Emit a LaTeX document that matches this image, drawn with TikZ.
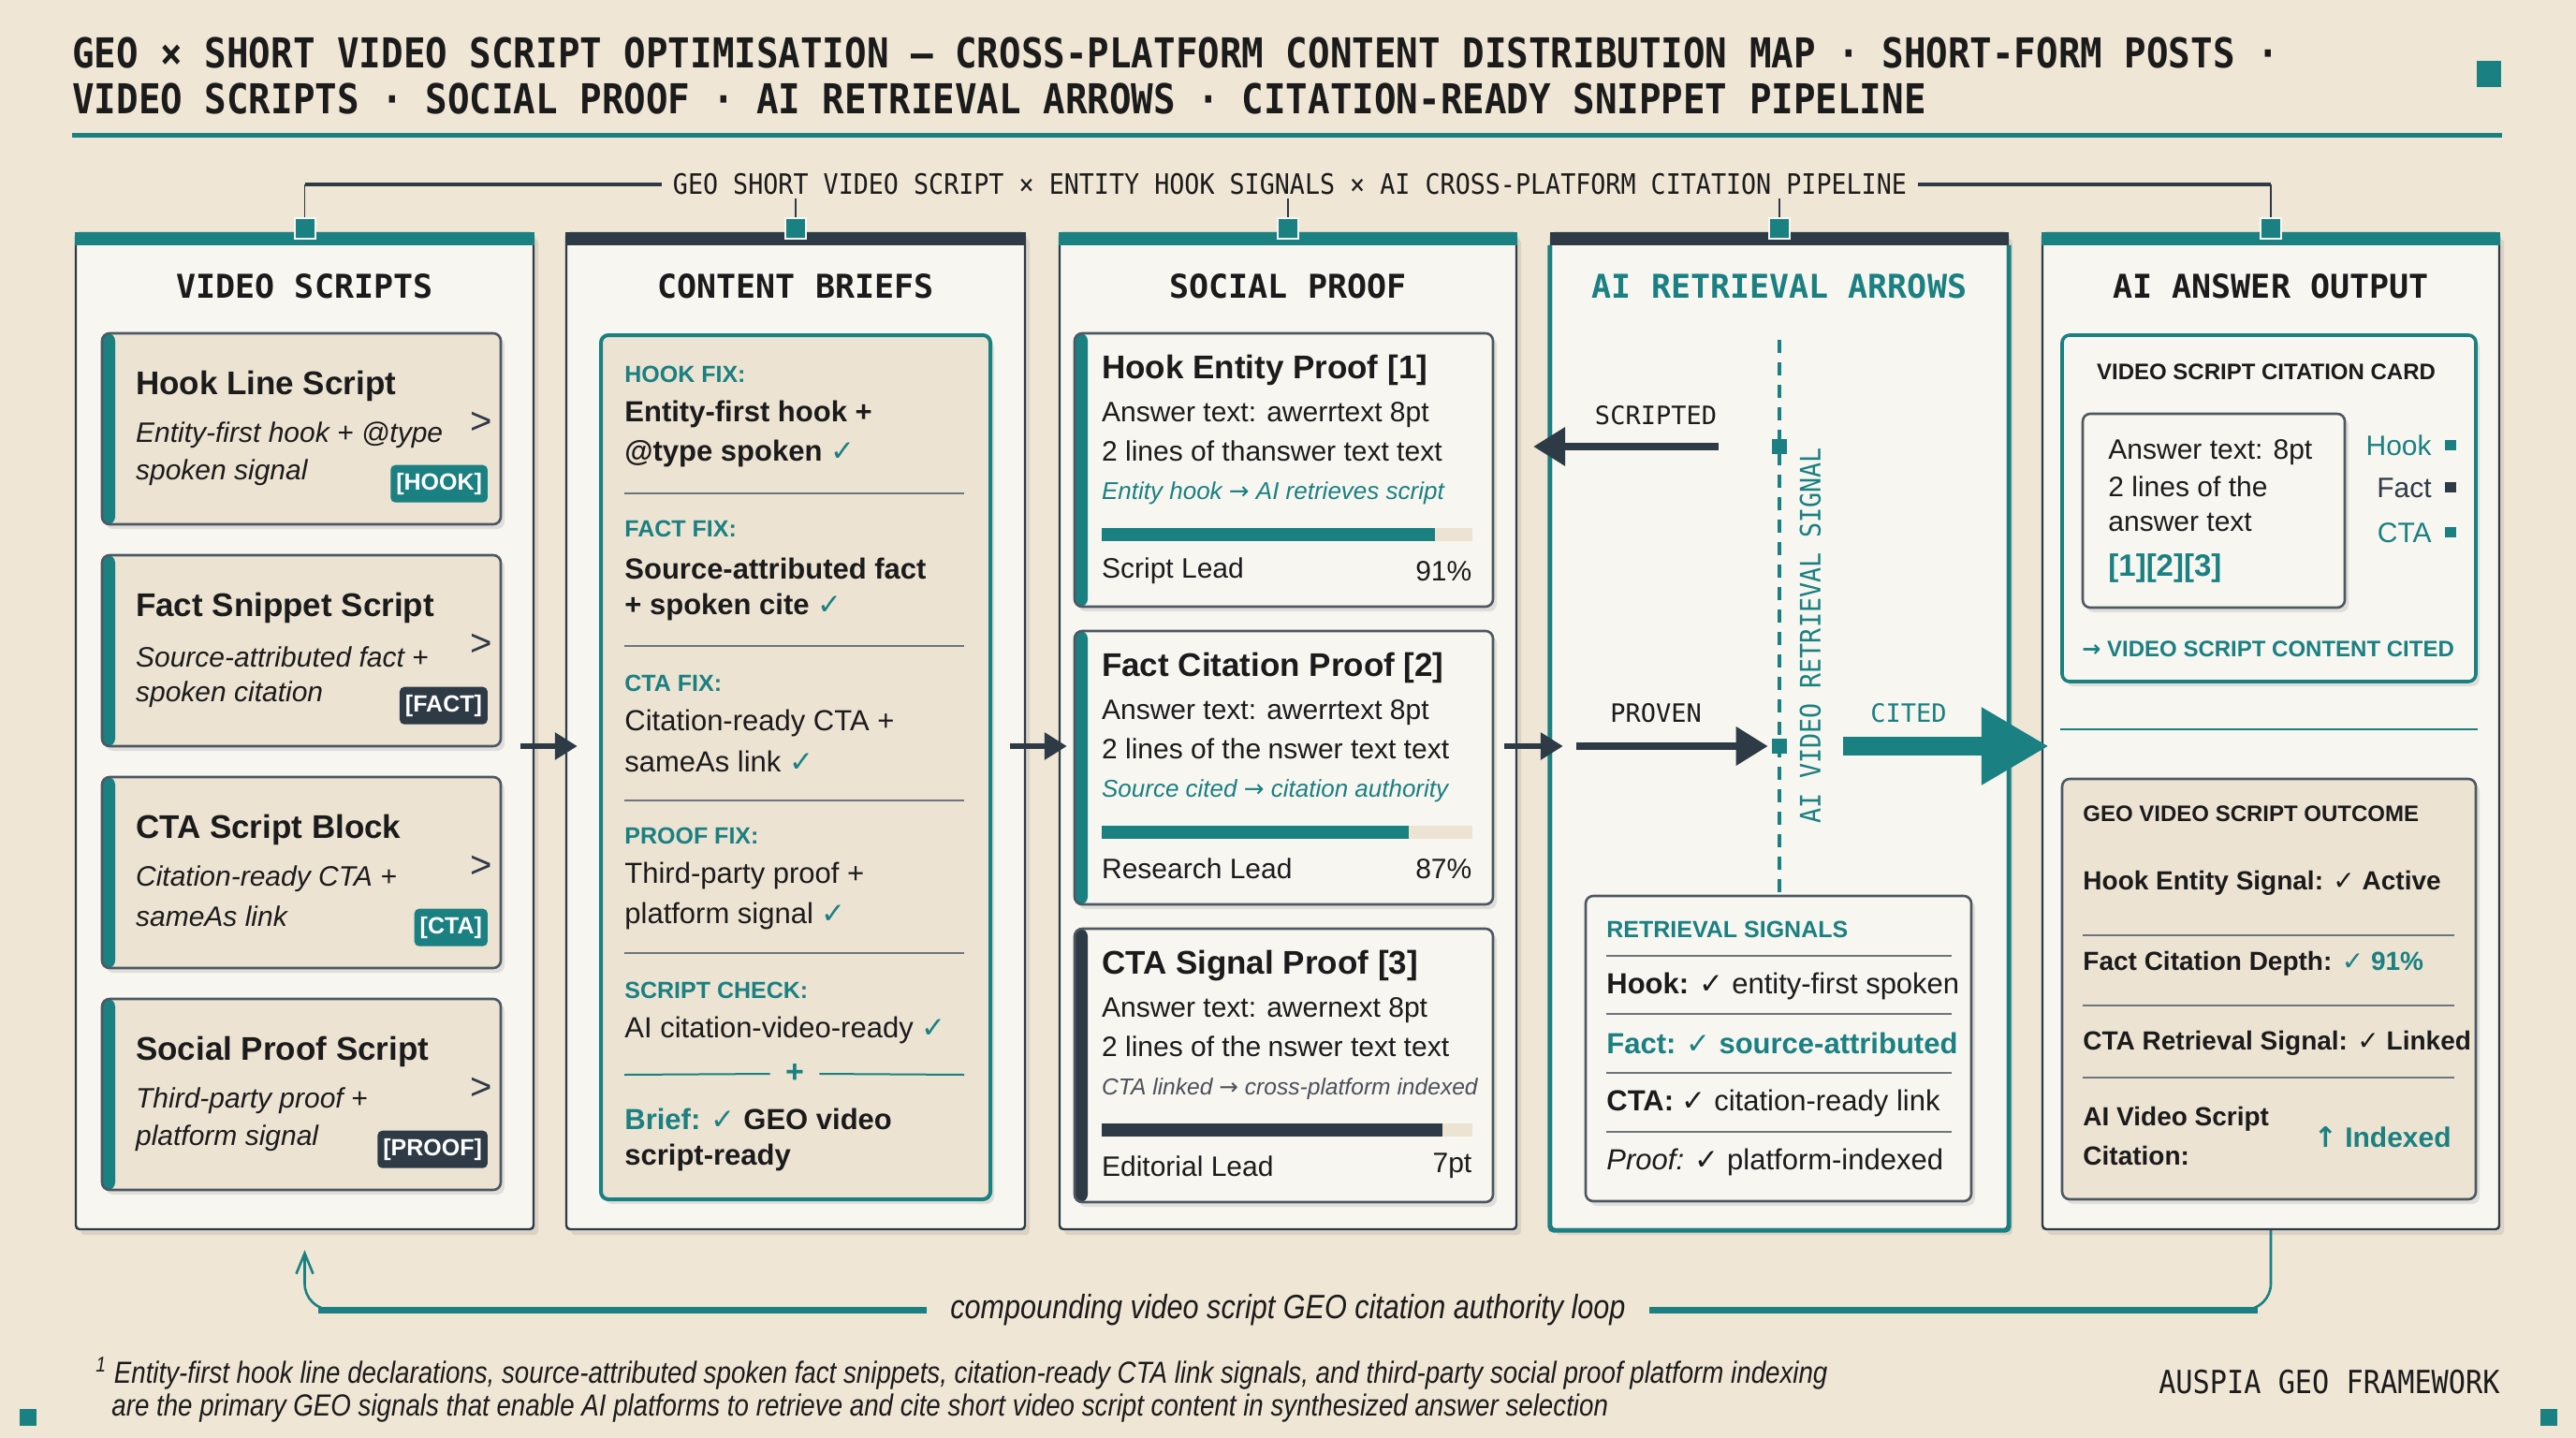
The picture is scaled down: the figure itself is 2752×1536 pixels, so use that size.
\documentclass[tikz,border=0pt]{standalone}
\usepackage{fontspec}
\setmainfont{Liberation Sans}
\newfontfamily\monofont{DejaVu Sans Mono}
\newfontfamily\narrowmono[FakeStretch=0.89]{DejaVu Sans Mono}
\newfontfamily\narrowsans[FakeStretch=0.85]{Liberation Sans}
\newfontfamily\symfont{DejaVu Sans}
\usepackage{xcolor}
\usepackage{tikz}
\usetikzlibrary{arrows.meta,positioning,fit,calc,shadows}

\definecolor{paper}{HTML}{EFE6D5}
\definecolor{panel}{HTML}{F8F6F1}
\definecolor{cardbg}{HTML}{ECE3D3}
\definecolor{geoteal}{HTML}{1A8081}
\definecolor{slate}{HTML}{2E3A46}
\definecolor{inkgray}{HTML}{4B5159}
\definecolor{ink}{HTML}{1B1B1B}

\newcommand{\fsz}[1]{\fontsize{#1}{#1}\selectfont}
\newcommand{\ck}{{\symfont ✓}}
\newcommand{\tck}{\textcolor{geoteal}{\ck}}
\newcommand{\rarr}{{\symfont →}}

\tikzset{
  colbox/.style={draw=slate, line width=1.2pt, fill=panel, rounded corners=2pt, inner sep=0pt,
    drop shadow={shadow xshift=2.5pt, shadow yshift=-3pt, opacity=0.18}},
  card/.style={draw=slate!85, line width=1.3pt, fill=cardbg, rounded corners=4pt, inner sep=0pt,
    drop shadow={shadow xshift=2pt, shadow yshift=-2.5pt, opacity=0.2},
    path picture={\fill[#1] (path picture bounding box.north west) rectangle ([xshift=7pt]path picture bounding box.south west);}},
  plainbox/.style={draw=slate!85, line width=1.3pt, fill=panel, rounded corners=4pt, inner sep=0pt,
    drop shadow={shadow xshift=2pt, shadow yshift=-2.5pt, opacity=0.2}},
  tealbox/.style={plainbox, draw=geoteal, line width=2pt},
  txt/.style={inner sep=0pt, anchor=west, text=ink},
  rtxt/.style={inner sep=0pt, anchor=east, text=ink},
  colhead/.style={inner sep=0pt, font=\monofont\bfseries\fsz{17.5}, text=ink},
  tap/.style={draw=panel, line width=1pt, fill=geoteal, minimum size=11pt, inner sep=0pt},
  hit/.style={fill=geoteal, minimum size=8pt, inner sep=0pt},
  tag/.style={inner xsep=3pt, inner ysep=0pt, minimum height=20pt, rounded corners=2.5pt,
    text=white, font=\bfseries\fsz{12.5}, anchor=east},
  fixlbl/.style={txt, text=geoteal, font=\bfseries\fsz{12.5}},
  rowline/.style={slate!70, line width=0.8pt},
  flow/.style={-{Triangle[length=12pt,width=14pt]}, line width=3.2pt, slate},
  bigflow/.style={-{Triangle[length=17pt,width=20pt]}, line width=3.6pt, slate},
  citeflow/.style={-{Triangle[length=36pt,width=39pt]}, line width=10pt, geoteal},
  arrlbl/.style={inner sep=0pt, font=\monofont\fsz{13.5}, text=ink},
  loopthin/.style={geoteal, line width=1.3pt},
  loopthick/.style={geoteal, line width=3.5pt}
}

\begin{document}
\begin{tikzpicture}[x=0.5pt, y=-0.5pt]
  % paper and frame
  \fill[paper] (0,0) rectangle (2752,1536);
  \useasboundingbox (0,0) rectangle (2752,1536);

  % title block
  \node[txt, font=\narrowmono\bfseries\fsz{22}] (ttl1) at (77,56) {GEO × SHORT VIDEO SCRIPT OPTIMISATION — CROSS-PLATFORM CONTENT DISTRIBUTION MAP · SHORT-FORM POSTS ·};
  \node[txt, font=\narrowmono\bfseries\fsz{22}] (ttl2) at (77,105) {VIDEO SCRIPTS · SOCIAL PROOF · AI RETRIEVAL ARROWS · CITATION-READY SNIPPET PIPELINE};
  \fill[geoteal] (77,142) rectangle (2673,147);
  \fill[geoteal] (2646,65) rectangle (2672,93);
  \fill[geoteal] (21,1505) rectangle (39,1523);
  \fill[geoteal] (2714,1505) rectangle (2732,1523);

  % the five columns
  \foreach \nm/\xa/\xb/\bar/\hd/\hc in {vs/81/570/geoteal/VIDEO SCRIPTS/ink, cb/605/1095/slate/CONTENT BRIEFS/ink,
      sp/1132/1620/geoteal/SOCIAL PROOF/ink, ra/1657/2145/slate/AI RETRIEVAL ARROWS/geoteal,
      ao/2182/2670/geoteal/AI ANSWER OUTPUT/ink}{
    \node[colbox, fit={(\xa,249) (\xb,1313)}] (\nm) {};
    \fill[\bar] (\nm.north west) rectangle ($(\nm.north east)+(0,14)$);
    \node[colhead, text=\hc] (\nm head) at ($(\nm.north)+(0,58)$) {\hd};
  }
  \draw[geoteal, line width=2.4pt, rounded corners=2pt] ($(ra.north west)+(0,14)$) -- (ra.south west) -- (ra.south east) -- ($(ra.north east)+(0,14)$);

  % pipeline bracket
  \coordinate (brkline) at (0,197);
  \foreach \nm in {vs,cb,sp,ra,ao}
    \node[tap] (\nm tap) at ($(\nm.north)+(0,-4)$) {};
  \foreach \nm in {vs,cb,sp,ra,ao}
    \draw[slate, line width=0.9pt] (\nm tap.north) -- (\nm tap.north |- brkline);
  \draw[slate, line width=2pt] (vstap.north |- brkline) -- (aotap.north |- brkline);
  \node[fill=paper, inner xsep=6pt, inner ysep=2pt, font=\narrowmono\fsz{15}, text=ink] (brk) at (1378,197)
    {GEO SHORT VIDEO SCRIPT × ENTITY HOOK SIGNALS × AI CROSS-PLATFORM CITATION PIPELINE};

  % video script cards
  \foreach \ttl/\la/\lb/\tg/\tc [count=\i from 0] in {
      Hook Line Script/Entity-first hook + @type/spoken signal/HOOK/geoteal,
      Fact Snippet Script/Source-attributed fact +/spoken citation/FACT/slate,
      CTA Script Block/Citation-ready CTA +/sameAs link/CTA/geoteal,
      Social Proof Script/Third-party proof +/platform signal/PROOF/slate}{
    \node[card=geoteal, fit={(109,{356+237*\i}) (535,{560+237*\i})}] (vs\i) {};
    \node[txt, font=\bfseries\fsz{17.5}] at ($(vs\i.north west)+(37,58)$) {\ttl};
    \node[txt, font=\itshape\fsz{15}] at ($(vs\i.north west)+(37,110)$) {\la};
    \node[txt, font=\itshape\fsz{15}] at ($(vs\i.north west)+(37,150)$) {\lb};
    \node[inner sep=0pt, font=\fsz{20}, text=slate] at ($(vs\i.north east)+(-22,97)$) {>};
    \node[tag, fill=\tc] at ($(vs\i.north east)+(-15,162)$) {[\tg]};
  }

  % content brief panel
  \node[tealbox, fill=cardbg, fit={(642,358) (1058,1281)}] (brief) {};
  \foreach \yy/\sty/\txt in {400/fixlbl/HOOK FIX:, 565/fixlbl/FACT FIX:, 730/fixlbl/CTA FIX:,
      893/fixlbl/PROOF FIX:, 1058/fixlbl/SCRIPT CHECK:}
    \node[\sty] at (667,\yy) {\txt};
  \foreach \yy/\txt in {442/Entity-first hook +, 484/@type spoken \tck, 607/Source-attributed fact, 648/+ spoken cite \tck}
    \node[txt, font=\bfseries\fsz{15.5}] at (667,\yy) {\txt};
  \foreach \yy/\txt in {772/Citation-ready CTA +, 813/sameAs link \tck, 935/Third-party proof +,
      978/platform signal \tck, 1100/AI citation-video-ready \tck}
    \node[txt, font=\fsz{15.5}] at (667,\yy) {\txt};
  \foreach \yy in {527,690,855,1018}
    \draw[rowline] (667,\yy) -- (1030,\yy);
  \node[inner sep=0pt, text=geoteal, font=\bfseries\fsz{17}] (plus) at (849,1147) {+};
  \draw[geoteal, line width=1pt] (667,1148) -- ($(plus.west)+(-16,0)$);
  \draw[geoteal, line width=1pt] ($(plus.east)+(16,0)$) -- (1030,1148);
  \node[txt, font=\bfseries\fsz{15.5}] at (667,1195) {\textcolor{geoteal}{Brief: \ck} GEO video};
  \node[txt, font=\bfseries\fsz{15.5}] at (667,1236) {script-ready};

  % social proof cards
  \foreach \ttl/\la/\lb/\note/\tc/\nc/\ns/\fr/\ld/\pv [count=\i from 0] in {
      Hook Entity Proof [1]/Answer text: awerrtext 8pt/2 lines of thanswer text text/Entity hook \rarr{} AI retrieves script/geoteal/geoteal/13/0.9/Script Lead/91\%,
      Fact Citation Proof [2]/Answer text: awerrtext 8pt/2 lines of the\hspace{0.25em}nswer text text/Source cited \rarr{} citation authority/geoteal/geoteal/13/0.83/Research Lead/87\%,
      CTA Signal Proof [3]/Answer text: awernext 8pt/2 lines of the\hspace{0.25em}nswer text text/CTA linked \rarr{} cross-platform indexed/slate/inkgray/12.3/0.92/Editorial Lead/7pt}{
    \pgfmathsetmacro{\cy}{356+318*\i}
    \node[card=\tc, fill=panel, fit={(1148,\cy) (1595,\cy+292)}] (sp\i) {};
    \node[txt, font=\bfseries\fsz{17.5}] at ($(sp\i.north west)+(30,41)$) {\ttl};
    \node[txt, font=\fsz{15}] at ($(sp\i.north west)+(30,88)$) {\la};
    \node[txt, font=\fsz{15}] at ($(sp\i.north west)+(30,127)$) {\lb};
    \node[txt, font=\itshape\fsz{\ns}, text=\nc] at ($(sp\i.north west)+(30,172)$) {\note};
    \fill[cardbg] ($(sp\i.north west)+(30,209)$) rectangle ++(396,14);
    \fill[\tc] ($(sp\i.north west)+(30,209)$) rectangle ++({396*\fr},14);
    \node[txt, font=\fsz{15}] at ($(sp\i.north west)+(30,255)$) {\ld};
    \node[rtxt, font=\fsz{15}] at ($(sp\i.north west)+(426,255)$) {\pv};
  }

  % retrieval signal column
  \node[plainbox, fit={(1694,957) (2106,1283)}] (rs) {};
  \coordinate (sigtop) at (1901,363);
  \draw[geoteal, line width=2pt, dash pattern=on 7pt off 5pt] (sigtop) -- (sigtop |- rs.north);
  \node[hit] (hitA) at (1901,477) {};
  \node[hit] (hitB) at (1901,797) {};
  \node[rotate=90, inner sep=0pt, font=\narrowmono\fsz{15}, text=geoteal] (vsig) at (1934,679) {AI VIDEO RETRIEVAL SIGNAL};
  \node[arrlbl] (scr) at (1769,444) {SCRIPTED};
  \node[arrlbl] (prv) at (1769,762) {PROVEN};
  \node[arrlbl, text=geoteal] (cit) at (2039,762) {CITED};
  \draw[bigflow] ($(hitA)+(-65,0)$) -- ($(sp.east |- hitA)+(17,0)$);
  \draw[bigflow] ($(ra.west |- hitB)+(28,0)$) -- ($(hitB.west)+(-4,0)$);
  \draw[citeflow] ($(hitB.east)+(60,0)$) -- ($(ao.west |- hitB)+(8,0)$);

  \node[fixlbl] at (1716,993) {RETRIEVAL SIGNALS};
  \foreach \yy in {1021,1083,1146,1209}
    \draw[rowline] (1716,\yy) -- (2085,\yy);
  \node[txt, font=\fsz{15.5}] at (1716,1053) {\textbf{Hook:} \ck{} entity-first spoken};
  \node[txt, font=\bfseries\fsz{15.5}, text=geoteal] at (1716,1114) {Fact: \ck{} source-attributed};
  \node[txt, font=\fsz{15.5}] at (1716,1178) {\textbf{CTA:} \ck{} citation-ready link};
  \node[txt, font=\fsz{15.5}] at (1716,1241) {\textit{Proof:} \ck{} platform-indexed};

  % flow between columns
  \coordinate (flowY) at (0,797);
  \draw[flow] ($(vs.east |- flowY)+(-15,0)$) -- ($(cb.west |- flowY)+(13,0)$);
  \draw[flow] ($(cb.east |- flowY)+(-17,0)$) -- ($(sp.west |- flowY)+(9,0)$);
  \draw[flow] ($(sp.east |- flowY)+(-14,0)$) -- ($(ra.west |- flowY)+(14,0)$);

  % answer output column
  \node[tealbox, line width=1.8pt, fit={(2203,358) (2645,728)}] (card) {};
  \node[inner sep=0pt, font=\bfseries\fsz{12}, text=ink] at (2421,397) {VIDEO SCRIPT CITATION CARD};
  \node[plainbox, fit={(2225,442) (2505,649)}] (ans) {};
  \node[txt, font=\fsz{15}] at (2252,483) {Answer text: 8pt};
  \node[txt, font=\fsz{15}] at (2252,520) {2 lines of the};
  \node[txt, font=\fsz{15}] at (2252,558) {answer text};
  \node[txt, font=\bfseries\fsz{16.5}, text=geoteal] at (2252,607) {[1][2][3]};
  \foreach \yy/\lg/\lc in {476/Hook/geoteal, 521/Fact/slate, 569/CTA/geoteal}{
    \node[rtxt, font=\fsz{15}, text=\lc] at (2598,\yy) {\lg};
    \fill[\lc] (2612,\yy-6) rectangle ++(12,11);
  }
  \node[txt, font=\bfseries\fsz{12}, text=geoteal] at (2224,693) {\rarr{} VIDEO SCRIPT CONTENT CITED};
  \coordinate (cardsep) at (0,779);
  \draw[geoteal, line width=1pt] (card.west |- cardsep) -- (card.east |- cardsep);

  \node[plainbox, fill=cardbg, fit={(2203,832) (2645,1281)}] (out) {};
  \node[txt, font=\bfseries\fsz{12}] at (2225,869) {GEO VIDEO SCRIPT OUTCOME};
  \foreach \yy in {999,1074,1151}
    \draw[rowline] (2225,\yy) -- (2622,\yy);
  \node[txt, font=\bfseries\fsz{14}] at (2225,943) {Hook Entity Signal: \ck{} Active};
  \node[txt, font=\bfseries\fsz{14}] at (2225,1029) {Fact Citation Depth: \textcolor{geoteal}{\ck{} 91\%}};
  \node[txt, font=\bfseries\fsz{14}] at (2225,1114) {CTA Retrieval Signal: \ck{} Linked};
  \node[txt, font=\bfseries\fsz{14}] at (2225,1195) {AI Video Script};
  \node[txt, font=\bfseries\fsz{14}] at (2225,1234) {Citation:};
  \node[rtxt, font=\bfseries\fsz{15}, text=geoteal] at (2619,1215) {{\symfont ↑} Indexed};

  % compounding loop
  \coordinate (loopY) at (0,1399);
  \node[inner sep=0pt, font=\narrowsans\itshape\fsz{18}, text=ink] (loop) at (1376,1399) {compounding video script GEO citation authority loop};
  \draw[loopthin, rounded corners=14pt] (ao.south -| aotap) |- ($(loop.east)+(25,0)$);
  \draw[loopthick] ($(loop.east)+(25,0)$) -- ($(aotap |- loopY)+(-14,0)$);
  \draw[loopthin, rounded corners=14pt, -{Straight Barb[length=11pt,width=9pt]}] ($(loop.west)+(-25,0)$) -| ($(vs.south -| vstap)+(0,21)$);
  \draw[loopthick] ($(loop.west)+(-25,0)$) -- ($(vstap |- loopY)+(14,0)$);

  % footnote
  \node[txt, font=\narrowsans\itshape\fsz{16.3}] (fn1) at (102,1467) {\textsuperscript{1} Entity-first hook line declarations, source-attributed spoken fact snippets, citation-ready CTA link signals, and third-party social proof platform indexing};
  \node[txt, font=\narrowsans\itshape\fsz{16.3}] (fn2) at (119,1504) {are the primary GEO signals that enable AI platforms to retrieve and cite short video script content in synthesized answer selection};
  \node[rtxt, font=\narrowmono\fsz{17}] (brand) at (2671,1476) {AUSPIA GEO FRAMEWORK};
\end{tikzpicture}
\end{document}
